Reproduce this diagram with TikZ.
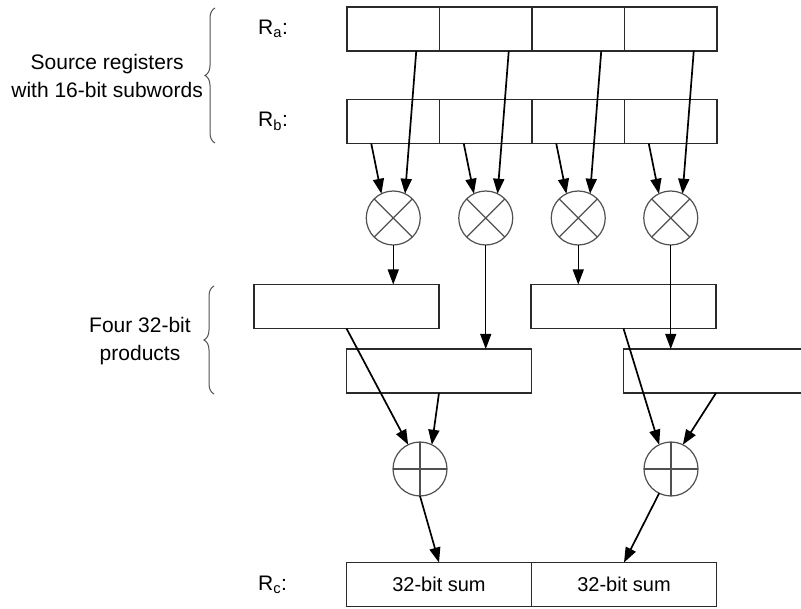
\documentclass[tikz,border=0pt]{standalone}
\usepackage{fontspec}
\setmainfont{Liberation Sans}
\usetikzlibrary{arrows.meta, decorations.pathreplacing, positioning}
\definecolor{regline}{HTML}{2A2A2A}
\definecolor{opline}{HTML}{505050}
\tikzset{
  % cella di un registro (16 bit)
  cell/.style={draw=regline, line width=1.8pt, minimum width=92.5pt,
    minimum height=44pt, inner sep=0pt, outer sep=0pt},
  % registro a 32 bit
  wide/.style={cell, minimum width=185pt, font=\fontsize{20}{24}\selectfont},
  % moltiplicatore / sommatore
  op/.style={circle, draw=opline, line width=1.2pt, minimum size=54pt,
    inner sep=0pt, outer sep=0pt},
  opmark/.style={draw=opline, line width=1.2pt},
  % flusso dei dati
  dat/.style={-{Triangle[length=15pt, width=11pt]}, line width=1.7pt},
  datthin/.style={dat, line width=1.2pt},
  % etichette
  lbl/.style={font=\fontsize{21}{28}\selectfont, inner sep=0pt, align=center},
  grp/.style={decorate, decoration={brace, amplitude=10pt}, draw=opline, line width=1pt},
}

\begin{document}
\begin{tikzpicture}[x=1pt, y=-1pt]
  \useasboundingbox (0,0) rectangle (801,609);
  % registri sorgente e moltiplicatori
  \foreach \i/\x in {1/393.25, 2/485.75, 3/578.25, 4/670.75} {
    \node[cell] (ra\i) at (\x,29) {};
    \node[cell] (rb\i) at (\x,121.5) {};
    \node[op] (m\i) at (\x,218) {};
    \draw[opmark] (m\i.north west) -- (m\i.south east) (m\i.north east) -- (m\i.south west);
    \draw[dat] ([xshift=23pt]ra\i.south) -- (m\i.64);
    \draw[dat] ([xshift=-22pt]rb\i.south) -- (m\i.116);
  }
  \node[lbl, anchor=west] (la) at (258,29) {R\textsubscript{a}:};
  \node[lbl, anchor=west] (lb) at (258,121.5) {R\textsubscript{b}:};
  \draw[grp] (215,143) -- (215,8);
  \node[lbl, anchor=east] (src) at (203,76) {Source registers\\with 16-bit subwords};
  % prodotti a 32 bit
  \node[wide] (p1) at (346.5,306.5) {};
  \node[wide] (p2) at (439,371) {};
  \node[wide] (p3) at (623.5,306.5) {};
  \node[wide] (p4) at (716,371) {};
  \draw[datthin] (m1.south) -- (m1.south |- p1.north);
  \draw[datthin] (m2.south) -- (m2.south |- p2.north);
  \draw[datthin] (m3.south) -- (m3.south |- p3.north);
  \draw[datthin] (m4.south) -- (m4.south |- p4.north);
  \draw[grp] (214,394) -- (214,286);
  \node[lbl] (prod) at (140,341) {Four 32-bit\\products};
  % sommatori
  \node[op] (s1) at (420,469) {};
  \node[op] (s2) at (671,469) {};
  \foreach \s in {s1, s2} \draw[opmark] (\s.north) -- (\s.south) (\s.west) -- (\s.east);
  \draw[dat] (p1.south) -- (s1.116);
  \draw[dat] (p2.south) -- (s1.64);
  \draw[dat] (p3.south) -- (s2.116);
  \draw[dat] (p4.south) -- (s2.64);
  % registro destinazione
  \node[wide] (rc1) at (439,584.5) {32-bit sum};
  \node[wide] (rc2) at (624,584.5) {32-bit sum};
  \node[lbl, anchor=west] (lc) at (258,584.5) {R\textsubscript{c}:};
  \draw[dat] (s1.south) -- (rc1.north);
  \draw[dat] (s2.244) -- (rc2.north);
\end{tikzpicture}
\end{document}
